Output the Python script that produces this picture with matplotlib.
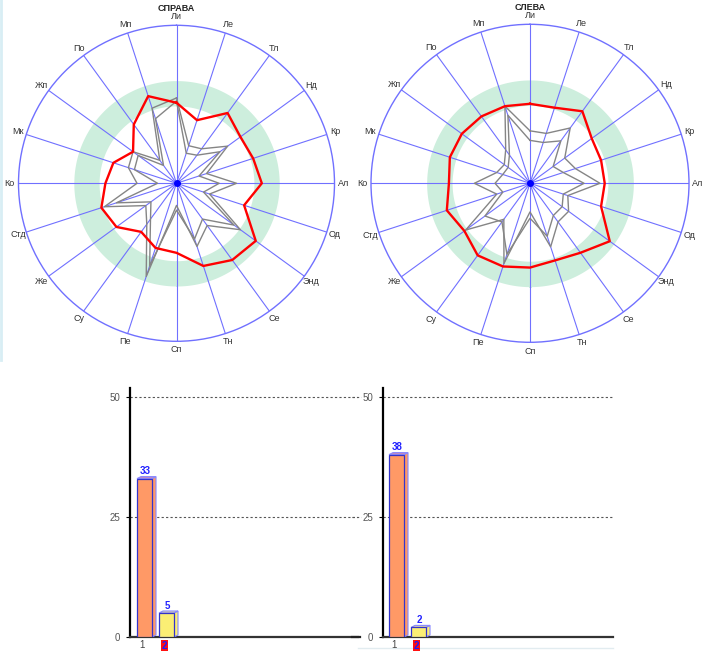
import numpy as np
import matplotlib
matplotlib.use("Agg")
import matplotlib.pyplot as plt
from matplotlib.patches import Polygon
from matplotlib.lines import Line2D

plt.rcParams['font.family'] = ['Liberation Sans', 'DejaVu Sans']

# --- data -------------------------------------------------------------
axis_labels = ['Ли', 'Ле', 'Тл', 'Нд', 'Кр', 'Ал', 'Од', 'Энд', 'Се', 'Тн',
               'Сп', 'Пе', 'Су', 'Же', 'Стд', 'Ко', 'Мк', 'Жп', 'По', 'Мп']

right_red = [51, 42, 55, 50, 51, 54, 45, 62, 60, 55, 44, 43, 38, 47, 50, 45, 42, 34, 46, 58]
right_gray_a = [54, 25, 27, 40, 20, 38, 22, 50, 33, 42, 14, 62, 32, 24, 48, 25, 32, 34, 18, 50]
right_gray_b = [52, 20, 22, 34, 15, 27, 18, 45, 28, 37, 17, 55, 28, 20, 40, 12, 28, 30, 14, 43]

left_red = [50, 50, 56, 48, 47, 47, 47, 62, 54, 51, 53, 55, 56, 51, 55, 51, 53, 53, 52, 51]
left_gray_a = [33, 33, 43, 27, 30, 44, 25, 30, 30, 42, 18, 53, 28, 50, 22, 35, 22, 20, 26, 51]
left_gray_b = [27, 27, 33, 18, 22, 34, 22, 25, 25, 35, 22, 47, 30, 35, 18, 22, 18, 17, 22, 45]

norm_band = (49, 65)

bar_cats = ['1', '2']
bars_right = [33, 5]
bars_left = [38, 2]
bar_ticks = [0, 25, 50]

BLUE = '#7070ff'

fig = plt.figure(figsize=(7.05, 6.64), dpi=100)

# frame remnants of the original screen (behind everything)
fig.add_artist(Line2D([1 / 705, 1 / 705], [1 - 360 / 664, 1], color='#d8eef4', lw=2, zorder=-5))
fig.add_artist(Line2D([358 / 705, 613 / 705], [1 - 648 / 664, 1 - 648 / 664],
                      color='#e2ecf0', lw=1, zorder=-5))


def px_axes(x0, y0, x1, y1, **kw):
    return fig.add_axes([x0 / 705, 1 - y1 / 664, (x1 - x0) / 705, (y1 - y0) / 664], **kw)


def radar(cx, cy, R, title, red, gray_a, gray_b):
    ax = px_axes(cx - R, cy - R, cx + R, cy + R, projection='polar')
    ax.set_theta_zero_location('N')
    ax.set_theta_direction(-1)
    ax.set_ylim(0, 100)
    ax.set_xticks([])
    ax.set_yticks([])
    ax.grid(False)
    ax.set_facecolor('none')
    ax.spines['polar'].set_color(BLUE)
    ax.spines['polar'].set_linewidth(1.0)

    n = len(axis_labels)
    th = np.arange(n) * 2 * np.pi / n
    full = np.linspace(0, 2 * np.pi, 200)
    ax.fill_between(full, norm_band[0], norm_band[1], color='#cdeedd', lw=0, zorder=1)

    for t in th:
        ax.plot([t, t], [0, 100], color=BLUE, lw=0.8, zorder=2)

    thc = np.append(th, th[0])
    for vals in (gray_a, gray_b):
        ax.plot(thc, np.append(vals, vals[0]), color='#858585', lw=1.0, zorder=3)
    ax.plot(thc, np.append(red, red[0]), color='#ff0000', lw=1.7, zorder=4)
    ax.plot([0], [0], 'o', color='#0000ff', ms=4, zorder=5)

    for t, lab in zip(th, axis_labels):
        ax.text(t, 105.5, lab, ha='center', va='center', fontsize=6.5,
                color='#333333', clip_on=False)
    ax.text(0, 110.5, title, ha='center', va='center', fontsize=6.5,
            fontweight='bold', color='#222222', clip_on=False)
    return ax


radar(176.5, 183.3, 158, 'СПРАВА', right_red, right_gray_a, right_gray_b)
radar(530, 183.3, 159, 'СЛЕВА', left_red, left_gray_a, left_gray_b)


def bars(x0, x1, values, first_off, grid_left=None):
    y0, y1 = 388, 637
    ax = px_axes(x0, y0, x1, y1)
    ax.set_facecolor('none')
    width_px = x1 - x0
    ax.set_xlim(0, width_px)
    ymax = (y1 - y0) / 4.8
    ax.set_ylim(0, ymax)
    for s in ('top', 'right'):
        ax.spines[s].set_visible(False)
    ax.spines['left'].set_linewidth(1.6)
    ax.spines['left'].set_color('black')
    ax.spines['bottom'].set_linewidth(1.6)
    ax.spines['bottom'].set_color('#333333')
    ax.set_yticks(bar_ticks)
    ax.set_yticklabels([str(t) for t in bar_ticks])
    ax.tick_params(axis='y', length=3, labelsize=7, labelcolor='#555555', pad=4)
    ax.set_xticks([])
    for t in bar_ticks[1:]:
        ax.plot([0, width_px], [t, t], ls=(0, (2, 2)), color='#555555',
                lw=0.8, zorder=1)
        if grid_left is not None:
            ax.plot([grid_left, grid_left + 9], [t, t], ls=(0, (2, 2)), color='#555555',
                    lw=0.8, clip_on=False, zorder=1)
    if grid_left is not None:
        ax.plot([grid_left, grid_left + 8], [0, 0], color='#222222', lw=1.6, clip_on=False)

    bw, step, dx, dy = 15, 22, 4, 2 / 4.8
    fronts = ['#ff9966', '#fbee74']
    tops = ['#c98ab8', '#e6dfa0']
    for i, (v, cat) in enumerate(zip(values, bar_cats)):
        x = first_off + i * step
        ax.add_patch(Polygon([(x + bw, 0), (x + bw + dx, dy), (x + bw + dx, v + dy), (x + bw, v)],
                             closed=True, facecolor=fronts[i], edgecolor='#8888ff', lw=0.8, zorder=3))
        ax.add_patch(Polygon([(x, v), (x + bw, v), (x + bw + dx, v + dy), (x + dx, v + dy)],
                             closed=True, facecolor=tops[i], edgecolor='#8888ff', lw=0.8, zorder=3))
        ax.bar(x, v, width=bw, align='edge', color=fronts[i], edgecolor='#3333cc',
               lw=0.9, zorder=4)
        ax.text(x + bw / 2 + 1, v + dy + 0.1, str(v), ha='center', va='bottom', fontsize=7,
                fontweight='bold', color='#2222ff', zorder=5)
        if i == 0:
            ax.text(x + bw / 2 - 2, -1.7, cat, ha='center', va='center', fontsize=7,
                    color='#444444', clip_on=False)
        else:
            ax.text(x + bw / 2 - 2, -1.8, cat, ha='center', va='center', fontsize=7,
                    fontweight='bold', color='#1a1aff', clip_on=False, zorder=6,
                    bbox=dict(boxstyle='square,pad=0.05', fc='#ff1010', ec='none'))
    return ax


bars(130, 358, bars_right, 7)
bars(383, 613, bars_left, 6, grid_left=-31)

fig.savefig('out.png', dpi=100)
